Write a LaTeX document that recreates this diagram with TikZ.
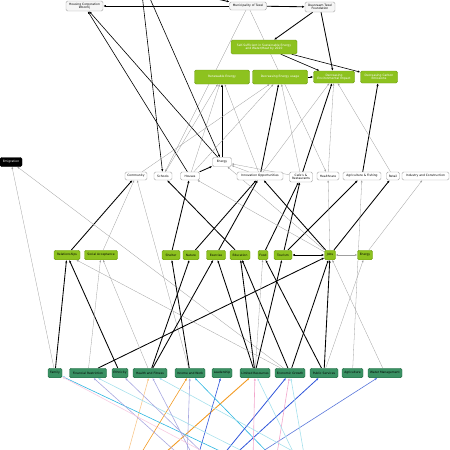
\documentclass[tikz,border=0pt]{standalone}
\usepackage{fontspec}
\setmainfont{DejaVu Sans}
\usepackage{xcolor}
\usepackage{tikz}
\usetikzlibrary{arrows.meta,backgrounds}
\definecolor{verdeClaro}{HTML}{8DC21F}
\definecolor{verdeBorda}{HTML}{6F9C14}
\definecolor{verdeEscuro}{HTML}{3A9163}
\definecolor{verdeEscBorda}{HTML}{236B44}
\definecolor{laranja}{HTML}{F29A22}
\definecolor{laranjaClaro}{HTML}{F8C88E}
\definecolor{azul}{HTML}{2F55DA}
\definecolor{azulMedio}{HTML}{5B78DB}
\definecolor{ciano}{HTML}{2CB6E0}
\definecolor{cianoClaro}{HTML}{A6E0EC}
\definecolor{lavanda}{HTML}{A8A8E0}
\definecolor{rosa}{HTML}{F2A6CC}
\tikzset{
    bloco/.style={
        rectangle,
        draw=gray!70,
        fill=white,
        rounded corners=1.5pt,
        align=center,
        inner sep=0.8pt,
        minimum height=8pt,
        font=\fontsize{3}{3.5}\selectfont
    },
    ator/.style={bloco, fill=gray!7},
    meta/.style={bloco, fill=verdeClaro, draw=verdeBorda, text=white, minimum height=13pt},
    fator/.style={bloco, fill=verdeClaro, draw=verdeBorda, minimum height=9.5pt},
    raiz/.style={bloco, fill=verdeEscuro, draw=verdeEscBorda, minimum height=9.5pt},
    saida/.style={bloco, fill=black, draw=black, text=white, minimum height=9pt},
    fluxo/.style={-{Latex[length=2.6pt,width=2.2pt]}, line width=0.85pt},
    fluxoDuplo/.style={{Latex[length=2.6pt,width=2.2pt]}-{Latex[length=2.6pt,width=2.2pt]}, line width=0.85pt},
    fluxoFino/.style={-{Latex[length=2.2pt,width=1.8pt]}, line width=0.3pt, draw=gray!75},
    fluxoFinoDuplo/.style={{Latex[length=2.2pt,width=1.8pt]}-{Latex[length=2.2pt,width=1.8pt]}, line width=0.3pt, draw=gray!75},
    entrada/.style={-{Latex[length=2.6pt,width=2.2pt]}, line width=0.6pt, draw=#1}
}

\begin{document}
\begin{tikzpicture}[x=1pt, y=-1pt]
    \useasboundingbox (0,0) rectangle (450,450);
    \clip (0,0) rectangle (450,450);

    % actors
    \node[ator, minimum width=37pt, minimum height=10pt] (housing) at (84.5,6) {Housing Corporation\\Woontij};
    \node[ator, minimum width=37pt] (muni) at (248,6) {Municipality of Texel};
    \node[ator, minimum width=30pt, minimum height=10pt] (duurzaam) at (320,7) {Duurzaam Texel\\Foundation};

    % goals
    \node[meta, minimum width=66pt, minimum height=14pt] (selfsuff) at (264,47) {Self-Sufficient in Sustainable Energy\\and Water/Heat by 2020};
    \node[meta, minimum width=55pt, minimum height=14pt] (renew) at (222,77) {Renewable Energy};
    \node[meta, minimum width=55pt, minimum height=14pt] (decenergy) at (280,77) {Decreasing Energy usage};
    \node[meta, minimum width=41pt, minimum height=12pt] (decenv) at (334,77) {Decreasing\\Environmental Impact};
    \node[meta, minimum width=37pt, minimum height=12pt] (deccarbon) at (379,77) {Decreasing Carbon\\Emissions};

    % sectors
    \node[saida, minimum width=22pt] (emigration) at (11,162) {Emigration};
    \node[bloco, minimum width=22pt] (community) at (136,176) {Community};
    \node[bloco, minimum width=18pt] (schools) at (163,176) {Schools};
    \node[bloco, minimum width=19pt] (houses) at (190,176) {Houses};
    \node[bloco, minimum width=19pt, minimum height=9pt] (energy) at (222,162) {Energy};
    \node[bloco, minimum width=46pt] (innovation) at (260,176) {Innovation Opportunities};
    \node[bloco, minimum width=23pt, minimum height=10pt] (cafes) at (301,177) {Cafe's \&\\Restaurants};
    \node[bloco, minimum width=22pt] (healthcare) at (328,176) {Healthcare};
    \node[bloco, minimum width=38pt] (agrifish) at (362,176) {Agriculture \& Fishing};
    \node[bloco, minimum width=13pt] (retail) at (393,176) {Retail};
    \node[bloco, minimum width=47pt] (industry) at (425.5,176) {Industry and Construction};

    % needs
    \node[fator, minimum width=26pt] (relationships) at (67,255) {Relationships};
    \node[fator, minimum width=33pt] (social) at (101,255) {Social Acceptance};
    \node[fator, minimum width=18pt] (shelter) at (171,255) {Shelter};
    \node[fator, minimum width=16pt] (nature) at (191,255) {Nature};
    \node[fator, minimum width=19pt] (exercise) at (216,255) {Exercise};
    \node[fator, minimum width=20pt] (education) at (240,255) {Education};
    \node[fator, minimum width=10pt] (food) at (263,255) {Food};
    \node[fator, minimum width=18pt] (tourism) at (283,255) {Tourism};
    \node[fator, minimum width=11pt] (jobs) at (330,255) {Jobs};
    \node[fator, minimum width=15pt] (energyB) at (365,255) {Energy};

    % drivers
    \node[raiz, minimum width=14pt] (family) at (55,373) {Family};
    \node[raiz, minimum width=37pt] (finres) at (88,373) {Financial Restriction};
    \node[raiz, minimum width=16pt] (ethnicity) at (120,373) {Ethnicity};
    \node[raiz, minimum width=34pt] (health) at (150,373) {Health and Fitness};
    \node[raiz, minimum width=30pt] (income) at (190,373) {Income and Work};
    \node[raiz, minimum width=20pt] (leadership) at (222,373) {Leadership};
    \node[raiz, minimum width=30pt] (limres) at (255,373) {Limited Resources};
    \node[raiz, minimum width=30pt] (econ) at (290,373) {Economic Growth};
    \node[raiz, minimum width=28pt] (public) at (324,373) {Public Services};
    \node[raiz, minimum width=21pt] (agriculture) at (352.5,373) {Agriculture};
    \node[raiz, minimum width=34pt] (water) at (385,373) {Water Management};

    % free ends outside the frame
    \coordinate (topA) at (195,-6);
    \coordinate (topB) at (142,-6);
    \coordinate (topC) at (148,-6);
    \foreach \nome/\px in {s1/126, s2/137, s3/157, s4/187, s5/197, s6/239, s7/275, s8/219, s9/229,
        s10/253, s11/249, s12/276, s13/297, s14/305, s15/185, s16/260, s17/210, s18/195, s19/309, s20/219}
        \coordinate (\nome) at (\px,460);

    \begin{scope}[on background layer]
        % top
        \draw[fluxo] (muni) -- (housing);
        \draw[fluxo] (muni) -- (duurzaam);
        \draw[fluxo] (topA) -- (muni);
        \draw[fluxo] (duurzaam) -- (selfsuff);
        \draw[fluxo] (duurzaam) -- (decenv);
        \draw[fluxo, line width=0.6pt] (selfsuff) -- (decenv);
        \draw[fluxo, line width=0.6pt] (selfsuff) -- (deccarbon);
        \draw[fluxo] (decenergy) -- (decenv);
        \draw[fluxoFino] (muni) -- (schools);
        \draw[fluxoFino] (muni) -- (healthcare);
        \draw[fluxo, line width=0.6pt] (topB) -- (schools);
        \draw[fluxo, line width=0.6pt] (topC) -- (energy);
        \draw[fluxo, line width=0.6pt] (houses) -- (housing);
        \draw[fluxo, line width=0.6pt] (energy) -- (housing);

        % sectors to goals
        \draw[fluxo] (energy) -- (renew);
        \draw[fluxo] (innovation) -- (decenergy);
        \draw[fluxo] (cafes) -- (decenv);
        \draw[fluxo] (agrifish) -- (deccarbon);
        \draw[fluxo] (houses) -- (energy);
        \draw[fluxoFino] (houses) -- (renew);
        \draw[fluxoFino] (houses) -- (decenergy);
        \draw[fluxoFino] (schools) -- (renew);
        \draw[fluxoFino] (innovation) -- (renew);
        \draw[fluxoFino] (innovation) -- (decenv);
        \draw[fluxoFino] (community) -- (decenergy);
        \draw[fluxoFino] (cafes) -- (decenergy);
        \draw[fluxoFino] (retail) -- (decenv);
        \draw[fluxoFino] (healthcare) -- (decenv);
        \draw[fluxoFino] (cafes) -- (energy);
        \draw[fluxoFino] (innovation) -- (energy);

        % needs to sectors
        \draw[fluxo] (relationships) -- (community);
        \draw[fluxoFino] (social) -- (community);
        \draw[fluxoFino] (income) -- (community);
        \draw[fluxo] (education) -- (schools);
        \draw[fluxo] (shelter) -- (houses);
        \draw[fluxo] (nature) -- (innovation);
        \draw[fluxo] (exercise) -- (innovation);
        \draw[fluxo] (jobs) -- (innovation);
        \draw[fluxo] (food) -- (cafes);
        \draw[fluxo] (tourism) -- (cafes);
        \draw[fluxo] (tourism) -- (agrifish);
        \draw[fluxo] (jobs) -- (retail);
        \draw[fluxoFino] (jobs) -- (energy);
        \draw[fluxoFino] (jobs) -- (houses);
        \draw[fluxoFino] (jobs) -- (healthcare);
        \draw[fluxoFino] (energyB) -- (industry);
        \draw[fluxoFino] (agriculture) -- (agrifish);
        \draw[fluxoFino] (family) -- (emigration);
        \draw[fluxoFino] (econ) -- (emigration);
        \draw[fluxoDuplo] (tourism) -- (jobs);
        \draw[fluxoFinoDuplo] (jobs) -- (energyB);

        % drivers to needs
        \draw[fluxo] (finres) -- (jobs);
        \draw[fluxo] (family) -- (relationships);
        \draw[fluxo] (ethnicity) -- (relationships);
        \draw[fluxo] (income) -- (shelter);
        \draw[fluxo] (health) -- (nature);
        \draw[fluxo] (health) -- (exercise);
        \draw[fluxo] (limres) -- (exercise);
        \draw[fluxo] (limres) -- (education);
        \draw[fluxo] (limres) -- (tourism);
        \draw[fluxo] (econ) -- (education);
        \draw[fluxo] (econ) -- (jobs);
        \draw[fluxo] (public) -- (jobs);
        \draw[fluxo] (public) -- (food);
        \draw[fluxoFino] (limres) -- (food);
        \draw[fluxoFino] (econ) -- (relationships);
        \draw[fluxoFino] (finres) -- (social);
        \draw[fluxoFino] (health) -- (social);
        \draw[fluxoFino] (water) -- (jobs);
        \draw[fluxoFino] (public) -- (energyB);

        % incoming from below
        \draw[entrada=laranjaClaro] (s1) -- (health);
        \draw[entrada=laranja] (s2) -- (income);
        \draw[entrada=laranja, line width=0.9pt] (s3) -- (limres);
        \draw[entrada=lavanda] (s4) -- (income);
        \draw[entrada=azul] (s5) -- (leadership);
        \draw[entrada=ciano] (s6) -- (family);
        \draw[entrada=ciano] (s7) -- (income);
        \draw[entrada=azul, line width=0.8pt] (s8) -- (econ);
        \draw[entrada=azul, line width=0.8pt] (s9) -- (public);
        \draw[entrada=rosa] (s10) -- (limres);
        \draw[entrada=azulMedio] (s11) -- (water);
        \draw[entrada=rosa] (s12) -- (econ);
        \draw[entrada=cianoClaro] (s13) -- (limres);
        \draw[entrada=cianoClaro] (s14) -- (econ);
        \draw[entrada=lavanda] (s15) -- (finres);
        \draw[entrada=cianoClaro] (s16) -- (finres);
        \draw[entrada=lavanda] (s17) -- (ethnicity);
        \draw[entrada=lavanda] (s18) -- (health);
        \draw[entrada=cianoClaro] (s19) -- (health);
        \draw[entrada=rosa!60] (s20) -- (family);
    \end{scope}
\end{tikzpicture}
\end{document}
